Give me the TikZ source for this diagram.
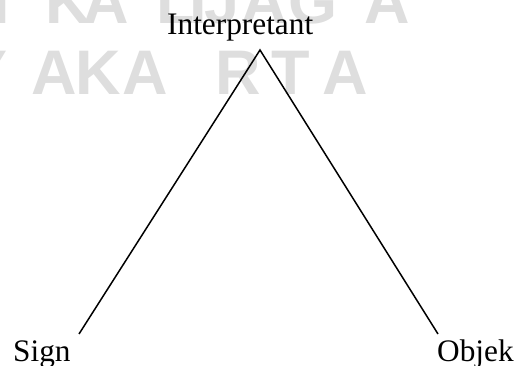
\documentclass[tikz,border=0pt]{standalone}
\usepackage{fontspec}
\setmainfont{Liberation Serif}
\newfontfamily\wmfont{Liberation Sans}
\begin{document}
\begin{tikzpicture}[x=1pt,y=-1pt,
  lbl/.style={inner sep=0pt,font=\fontsize{31.3}{36}\selectfont,text=black},
  wm/.style={inner sep=0pt,anchor=base,font=\wmfont\bfseries\fontsize{63}{70}\selectfont,text=black!13},
  edge/.style={line width=1.5pt,black}]
\useasboundingbox (0,0) rectangle (520,366);
\begin{scope}
\clip (0,0) rectangle (520,366);
% faint watermark, top row
\node[wm] (w1) at (-13,24) {N};
\node[wm] (w2) at (68,24) {K};
\node[wm] (w3) at (106,24) {A};
\node[wm] (w4) at (176,24) {L};
\node[wm] (w5) at (198,24) {I};
\node[wm] (w6) at (222,24) {J};
\node[wm] (w7) at (264,24) {A};
\node[wm] (w8) at (313,24) {G};
\node[wm] (w9) at (387,24) {A};
% faint watermark, second row
\node[wm] (v1) at (-13,95) {Y};
\node[wm] (v2) at (54,95) {A};
\node[wm] (v3) at (98,95) {K};
\node[wm] (v4) at (145,95) {A};
\node[wm] (v5) at (238,95) {R};
\node[wm] (v6) at (291,95) {T};
\node[wm] (v7) at (345,95) {A};
\end{scope}
% labels
\node[lbl,anchor=base west] (interp) at (167,35) {Interpretant};
\node[lbl,anchor=base west] (sign) at (13,362) {Sign};
\node[lbl,anchor=base west] (objek) at (437,362) {Objek};
% connector ends
\coordinate (apex) at (260,50);
\coordinate (signend) at (79,334);
\coordinate (objend) at (438,334);
\draw[edge] (signend) -- (apex) -- (objend);
\end{tikzpicture}
\end{document}
